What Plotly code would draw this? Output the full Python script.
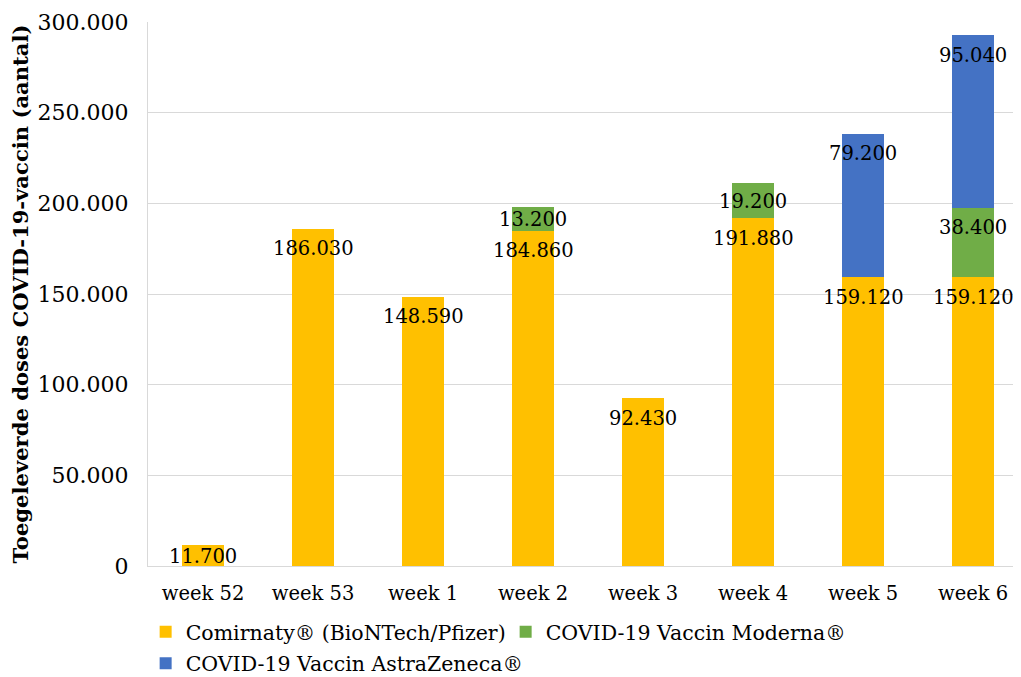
import plotly.graph_objects as go

weeks = ["week 52", "week 53", "week 1", "week 2", "week 3", "week 4", "week 5", "week 6"]
pfizer = [11700, 186030, 148590, 184860, 92430, 191880, 159120, 159120]
moderna = [0, 0, 0, 13200, 0, 19200, 0, 38400]
astra = [0, 0, 0, 0, 0, 0, 79200, 95040]
series_names = ["Comirnaty® (BioNTech/Pfizer)", "COVID-19 Vaccin Moderna®", "COVID-19 Vaccin AstraZeneca®"]
colors = ["#FFC000", "#70AD47", "#4472C4"]
legend_ids = ["legend", "legend", "legend2"]
y_ticks = [0, 50000, 100000, 150000, 200000, 250000, 300000]

FONT = "DejaVu Serif"

def fmt(v):
    return f"{v:,}".replace(",", ".")

fig = go.Figure()
series = [pfizer, moderna, astra]
for name, vals, col, lg in zip(series_names, series, colors, legend_ids):
    fig.add_trace(go.Bar(
        x=weeks, y=vals, name=name, legend=lg,
        marker=dict(color=col, line=dict(width=0)), hoverinfo="x+y"))

annotations = []
cum = [0] * len(weeks)
for vals in series:
    for i, v in enumerate(vals):
        if v > 0:
            top = cum[i] + v
            if v < 30000:
                annotations.append(dict(x=weeks[i], y=cum[i] + v / 2, text=fmt(v), showarrow=False,
                                        xref="x", yref="y", yanchor="middle", yshift=-1,
                                        font=dict(family=FONT, size=19.5, color="black")))
            else:
                annotations.append(dict(x=weeks[i], y=top, text=fmt(v), showarrow=False,
                                        xref="x", yref="y", yanchor="middle", yshift=-20,
                                        font=dict(family=FONT, size=19.5, color="black")))
            cum[i] = top

legend_common = dict(orientation="h", xanchor="left", yanchor="top",
                     font=dict(family=FONT, size=20.5, color="black"),
                     entrywidthmode="pixels", itemwidth=30,
                     traceorder="normal", bgcolor="rgba(0,0,0,0)")

fig.update_layout(
    barmode="stack",
    bargap=0.61,
    width=1021, height=677,
    margin=dict(l=140, r=8, t=14, b=119, autoexpand=False),
    plot_bgcolor="white", paper_bgcolor="white",
    separators=",.",
    font=dict(family=FONT, size=19.5, color="black"),
    annotations=annotations,
    showlegend=True,
    legend=dict(x=-0.0027, y=-0.0846, entrywidth=315, **legend_common),
    legend2=dict(x=-0.0027, y=-0.1425, entrywidth=420, **legend_common),
    xaxis=dict(range=[-0.5, 7.436], showgrid=False, showline=True, linecolor="#D9D9D9",
               automargin=False,
               ticks="outside", ticklen=10, tickcolor="rgba(0,0,0,0)",
               tickfont=dict(family=FONT, size=19.5, color="black")),
    yaxis=dict(range=[0, 300000], tickvals=y_ticks, tickformat=",d",
               automargin=False,
               showgrid=True, gridcolor="#D9D9D9", gridwidth=1.3,
               showline=True, linecolor="#D9D9D9", zeroline=False,
               ticks="outside", ticklen=14, tickcolor="rgba(0,0,0,0)",
               tickfont=dict(family=FONT, size=22, color="black"),
               title=dict(text="<b>Toegeleverde doses COVID-19-vaccin (aantal)</b>",
                          font=dict(family=FONT, size=21.1, color="black"), standoff=6)),
)

fig.write_html("out.html")
